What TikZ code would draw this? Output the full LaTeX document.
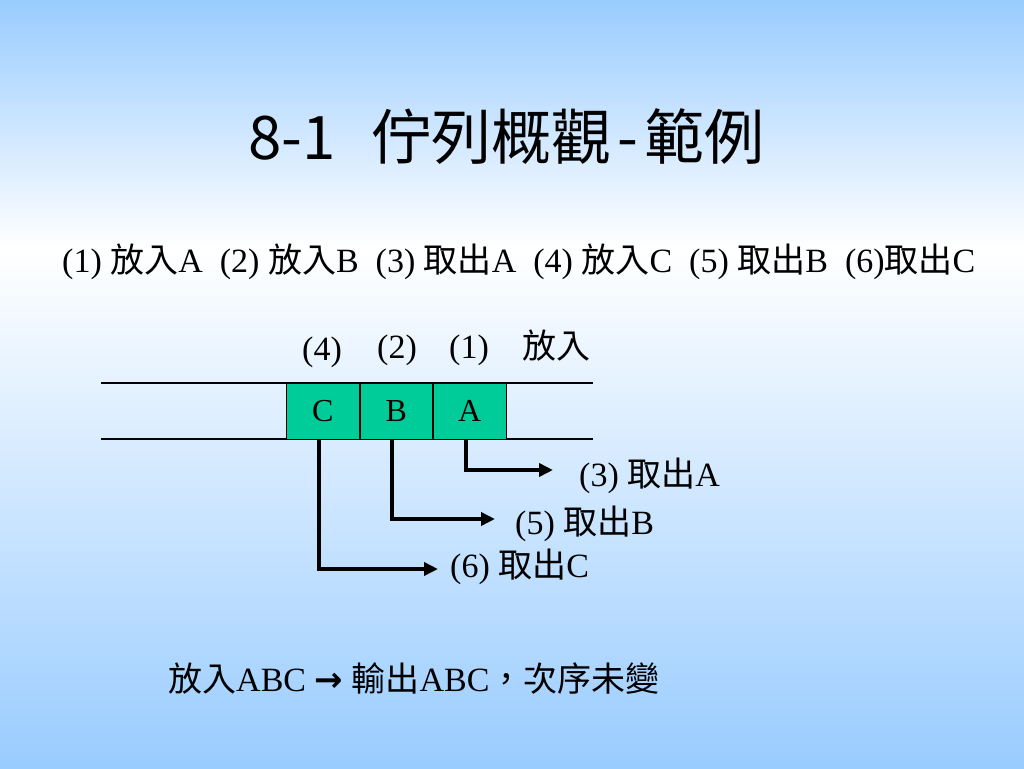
\documentclass[tikz,border=0pt]{standalone}
\usepackage{fontspec}
\setmainfont{Liberation Serif}
\newfontfamily\cjk{Noto Sans CJK TC}
\newfontfamily\dvs{DejaVu Sans}
\newcommand{\cj}[1]{{\cjk #1}}
\usetikzlibrary{arrows.meta}
\definecolor{bgblue}{RGB}{153,204,255}
\definecolor{qgreen}{RGB}{0,204,153}
\tikzset{
  txt/.style={inner sep=0pt,font=\fontsize{34}{38}\selectfont},
  cell/.style={draw=black,line width=1pt,fill=qgreen,minimum width=72.5pt,minimum height=56pt,inner sep=0pt,anchor=west,font=\fontsize{32}{36}\selectfont},
  conn/.style={line width=4pt,-{Triangle[length=14pt,width=13pt]}},
  rail/.style={line width=1.2pt,black}
}
\begin{document}
\begin{tikzpicture}[x=1pt,y=-1pt]
\useasboundingbox (0,0) rectangle (1024,768);
\fill[top color=bgblue,bottom color=white] (0,0) rectangle (1024,250);
\fill[top color=white,bottom color=bgblue] (0,250) rectangle (1024,768);
% title
\node[inner sep=0pt,anchor=base west,font=\cjk\fontsize{60}{66}\selectfont] (title) at (248,159) {8-1\hspace{36pt}佇列概觀\hspace{6pt}-\hspace{6pt}範例};
% sequence line
\node[txt,anchor=base west] (seq) at (62,272) {(1) \cj{放入}A\ \ (2) \cj{放入}B\ \ (3) \cj{取出}A\ \ (4) \cj{放入}C\ \ (5) \cj{取出}B\ \ (6)\cj{取出}C};
% rails
\coordinate (rl1) at (101,383);
\coordinate (rr1) at (593,383);
\coordinate (rl2) at (101,439);
\coordinate (rr2) at (593,439);
\draw[rail] (rl1) -- (rr1);
\draw[rail] (rl2) -- (rr2);
% cells
\node[cell] (C) at (286,411) {C};
\node[cell,anchor=west] (B) at (C.east) {B};
\node[cell,anchor=west] (A) at (B.east) {A};
% labels above
\node[txt,anchor=base] (n4) at (322,360) {(4)};
\node[txt,anchor=base] (n2) at (397,358) {(2)};
\node[txt,anchor=base] (n1) at (469,358) {(1)};
\node[txt,anchor=base] (put) at (556,358) {\cj{放入}};
% output labels
\node[txt,anchor=west] (la) at (579,476) {(3) \cj{取出}A};
\node[txt,anchor=west] (lb) at (515,524) {(5) \cj{取出}B};
\node[txt,anchor=west] (lc) at (450,567) {(6) \cj{取出}C};
\coordinate (ea) at (553,470);
\coordinate (eb) at (495,519);
\coordinate (ec) at (438,569);
\draw[conn] ([xshift=-4pt]A.south) |- (ea);
\draw[conn] ([xshift=-4pt]B.south) |- (eb);
\draw[conn] ([xshift=-4pt]C.south) |- (ec);
% bottom sentence
\node[txt,anchor=base west] (sum) at (168,691) {\cj{放入}ABC {\dvs\bfseries →} \cj{輸出}ABC\cj{，次序未變}};
\end{tikzpicture}
\end{document}
